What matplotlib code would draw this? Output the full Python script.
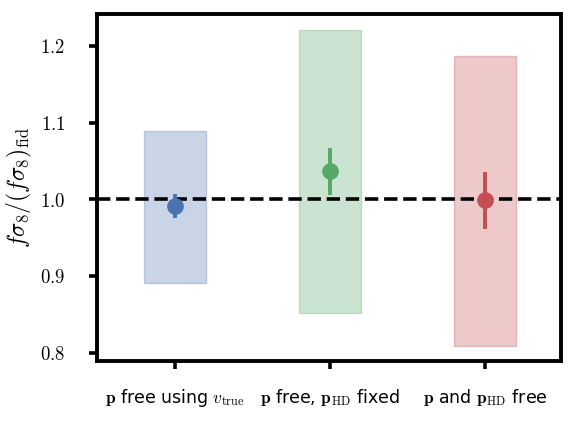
import numpy as np
import matplotlib
matplotlib.use("Agg")
import matplotlib.pyplot as plt

plt.rcParams['mathtext.fontset'] = 'cm'
plt.rcParams['font.family'] = ['DejaVu Sans']

# Données
labels = [r"$\mathbf{p}$ free using $v_{\rm true}$",
          r"$\mathbf{p}$ free, $\mathbf{p}_{\rm HD}$ fixed",
          r"$\mathbf{p}$ and $\mathbf{p}_{\rm HD}$ free"]
box_low = [0.8913, 0.8513, 0.8087]
box_high = [1.0896, 1.2204, 1.1865]
best = [0.9909, 1.0369, 0.9987]
err_low = [0.9752, 1.0056, 0.9609]
err_high = [1.0065, 1.0665, 1.0356]
colors = ["#4C72B0", "#55A868", "#C44E52"]
fid_value = 1.0
yticks = [0.8, 0.9, 1.0, 1.1, 1.2]

x = np.arange(len(labels))
best = np.array(best)
yerr = [best - np.array(err_low), np.array(err_high) - best]

fig = plt.figure(figsize=(5.78, 4.22), dpi=100)
ax = fig.add_axes([0.1678, 0.1445, 0.8028, 0.8223])

for i in range(len(x)):
    ax.bar(x[i], box_high[i] - box_low[i], bottom=box_low[i], width=0.4,
           facecolor=colors[i], alpha=0.3, edgecolor=colors[i], linewidth=1, zorder=1)
    ax.errorbar(x[i], best[i], yerr=[[yerr[0][i]], [yerr[1][i]]], fmt='o', color=colors[i],
                markersize=11, elinewidth=2.8, capsize=0, zorder=3)

ax.axhline(fid_value, color='k', linestyle='--', linewidth=2.6, zorder=2)

ax.set_xlim(-0.503, 2.49)
ax.set_ylim(0.789, 1.2417)
ax.set_xticks(x)
ax.set_xticklabels(labels, fontsize=12.5)
ax.set_yticks(yticks)
ax.set_yticklabels([r"$%.1f$" % v for v in yticks], fontsize=13.5)
ax.tick_params(axis='x', direction='out', length=6, width=2.6, pad=13)
ax.tick_params(axis='y', direction='out', length=6, width=2.6, pad=17)
for s in ax.spines.values():
    s.set_linewidth(2.8)

ax.set_ylabel(r"$f\sigma_8/(f\sigma_8)_{\rm fid}$", fontsize=17, labelpad=4)

fig.savefig("out.png", dpi=100)
